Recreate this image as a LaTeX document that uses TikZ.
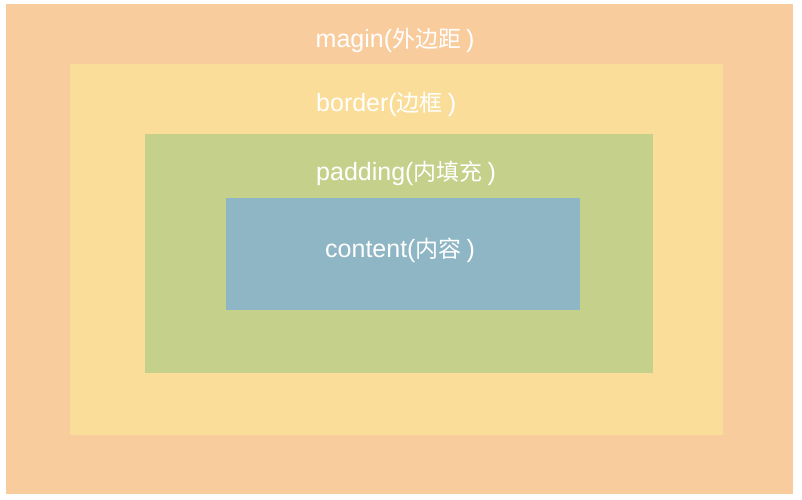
\documentclass[tikz,border=0pt]{standalone}
\usepackage{fontspec}
\setmainfont{Liberation Sans}
\newfontfamily\cjk[Scale=0.92]{Noto Sans CJK SC}
\usetikzlibrary{positioning}
\definecolor{marginfill}{HTML}{F8CC9D}
\definecolor{borderfill}{HTML}{FBDD9A}
\definecolor{paddingfill}{HTML}{C5D18B}
\definecolor{contentfill}{HTML}{8EB6C4}
\newcommand{\boxname}[2]{#1({\cjk #2}\hspace{5pt})}

\begin{document}
\begin{tikzpicture}[x = 1pt, y = -1pt,
    box/.style = {fill = #1, draw = none, inner sep = 0pt, outer sep = 0pt, anchor = north west},
    boxlabel/.style = {text = white, inner sep = 0pt, anchor = base west, font = \fontsize{25}{30}\selectfont}]
  \useasboundingbox (0,0) rectangle (802,499);
  \node[box = marginfill, minimum width = 787pt, minimum height = 490pt] (M) at (6,4) {};
  \node[box = borderfill, minimum width = 653pt, minimum height = 371pt] (B) at (70,64) {};
  \node[box = paddingfill, minimum width = 508pt, minimum height = 239pt] (P) at (145,134) {};
  \node[box = contentfill, minimum width = 354pt, minimum height = 112pt] (C) at (226,198) {};
  \node[boxlabel] (Mtext) at (315.5,47) {\boxname{magin}{外边距}};
  \node[boxlabel] (Btext) at (316,111) {\boxname{border}{边框}};
  \node[boxlabel] (Ptext) at (316,180) {\boxname{padding}{内填充}};
  \node[boxlabel] (Ctext) at (325,257) {\boxname{content}{内容}};
\end{tikzpicture}
\end{document}
